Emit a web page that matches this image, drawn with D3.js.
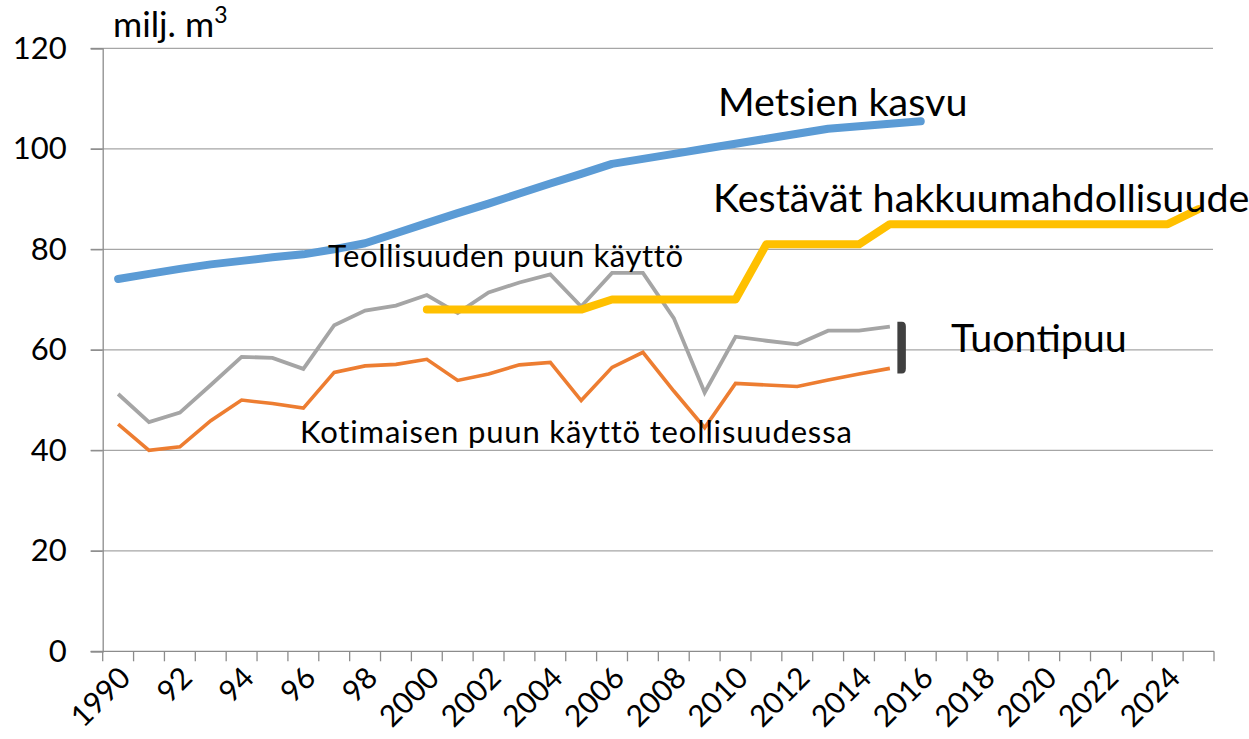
<!DOCTYPE html>
<html><head><meta charset="utf-8">
<script src="https://cdn.jsdelivr.net/npm/d3@7"></script>
<style>
html,body{margin:0;padding:0;background:#fff;}
svg{display:block;font-family:Lato,"Open Sans",sans-serif;}
</style></head>
<body><svg id="c" width="1249" height="739"></svg>
<script>
// ---- data ----
const years = d3.range(1990, 2026).map(String);
const xTickLabels = ["1990","92","94","96","98","2000","2002","2004","2006","2008","2010","2012","2014","2016","2018","2020","2022","2024"];
const yTicks = [0,20,40,60,80,100,120];
// Metsien kasvu 1990-2016
const metsienKasvu = [74.1,75.1,76.1,77.0,77.7,78.4,79.0,80.0,81.2,83.2,85.2,87.2,89.1,91.1,93.1,95.0,97.0,98.0,99.0,100.0,101.0,102.0,103.0,104.0,104.5,105.0,105.5];
// Kestävät hakkuumahdollisuudet 2000-2025
const kestavat = [68,68,68,68,68,68,70,70,70,70,70,81,81,81,81,85,85,85,85,85,85,85,85,85,85,88];
const kestavatStart = 2000;
// Teollisuuden puun käyttö 1990-2015
const teollisuus = [51.2,45.6,47.5,53.0,58.6,58.4,56.2,64.9,67.8,68.8,70.9,67.3,71.4,73.4,75.0,68.6,75.3,75.3,66.3,51.5,62.6,61.8,61.1,63.8,63.8,64.6];
// Kotimaisen puun käyttö teollisuudessa 1990-2015
const kotimainen = [45.2,40.0,40.7,45.9,50.0,49.3,48.4,55.5,56.8,57.1,58.1,53.9,55.2,57.0,57.5,49.9,56.5,59.5,51.8,44.5,53.3,53.0,52.7,54.0,55.2,56.3];
// Tuontipuu bracket (range between the two use series, 2015)
const tuontiRange = [55.3, 65.6];

// ---- layout ----
const svg = d3.select("#c");
const L = 102.7, R = 1214, T = 48.3, B = 651.3;
const x = d3.scaleBand().domain(years).range([L, R]).padding(0);
const y = d3.scaleLinear().domain([0, 120]).range([B, T]);
const cx = yr => x(String(yr)) + x.bandwidth() / 2;

// gridlines
svg.append("g").selectAll("line").data(yTicks.filter(d => d > 0)).join("line")
  .attr("x1", L - 12).attr("x2", R - 1).attr("y1", d => y(d)).attr("y2", d => y(d))
  .attr("stroke", "#a6a6a6").attr("stroke-width", 1.3);

// y axis
const yAxis = svg.append("g").attr("transform", `translate(${L},0)`)
  .call(d3.axisLeft(y).tickValues(yTicks).tickSize(12).tickPadding(24).tickFormat(d3.format("d")));
yAxis.select(".domain").attr("stroke", "#8c8c8c").attr("stroke-width", 1.3);
yAxis.selectAll(".tick line").attr("stroke", "#8c8c8c").attr("stroke-width", 1.3);
yAxis.selectAll("text").attr("font-size", 31).attr("fill", "#000").attr("font-family", "Lato");

// x axis
const xAxisG = svg.append("g").attr("transform", `translate(0,${B})`);
xAxisG.append("line").attr("x1", L - 12).attr("x2", R).attr("stroke", "#8c8c8c").attr("stroke-width", 1.3);
xAxisG.selectAll("line.tk").data(d3.range(years.length + 1)).join("line").attr("class", "tk")
  .attr("x1", i => L + i * x.bandwidth()).attr("x2", i => L + i * x.bandwidth())
  .attr("y1", 0).attr("y2", 10).attr("stroke", "#8c8c8c").attr("stroke-width", 1.3);
xAxisG.selectAll("text").data(xTickLabels).join("text")
  .attr("transform", (d, i) => `translate(${cx(1990 + 2 * i) - 1},${13}) rotate(-45)`)
  .attr("text-anchor", "end").attr("dy", "0.72em")
  .attr("font-size", 30).attr("font-family", "Lato").attr("fill", "#000")
  .text(d => d);

// lines
const line = d3.line().defined(d => d.v != null).x(d => cx(d.yr)).y(d => y(d.v));
const toPts = (arr, start) => arr.map((v, i) => ({yr: start + i, v}));

svg.append("path").datum(toPts(kotimainen, 1990)).attr("d", line)
  .attr("fill", "none").attr("stroke", "#ED7D31").attr("stroke-width", 3.6);
svg.append("path").datum(toPts(teollisuus, 1990)).attr("d", line)
  .attr("fill", "none").attr("stroke", "#A5A5A5").attr("stroke-width", 3.8);
svg.append("path").datum(toPts(kestavat, kestavatStart)).attr("d", line)
  .attr("fill", "none").attr("stroke", "#FFC000").attr("stroke-width", 8)
  .attr("stroke-linecap", "round").attr("stroke-linejoin", "round");
svg.append("path").datum(toPts(metsienKasvu, 1990)).attr("d", line)
  .attr("fill", "none").attr("stroke", "#5B9BD5").attr("stroke-width", 8)
  .attr("stroke-linecap", "round").attr("stroke-linejoin", "round");

// Tuontipuu bracket
{
  const x0 = cx(2015) + 7.5, x1 = x0 + 8.5;
  const y0 = y(tuontiRange[1]), y1 = y(tuontiRange[0]);
  svg.append("path")
    .attr("d", `M${x0},${y0} L${x1 - 4},${y0} Q${x1},${y0} ${x1},${y0 + 5} L${x1},${y1 - 5} Q${x1},${y1} ${x1 - 4},${y1} L${x0},${y1} Z`)
    .attr("fill", "#404040");
}

// labels
const lab = (t, px, py, fs, ls) => svg.append("text").attr("x", px).attr("y", py)
  .attr("font-size", fs).attr("font-family", "Lato").attr("fill", "#000")
  .attr("letter-spacing", ls || 0).text(t);
const title = svg.append("text").attr("x", 113).attr("y", 37).attr("font-size", 35.5).attr("font-family", "Lato").attr("fill", "#000");
title.append("tspan").text("milj. m");
title.append("tspan").attr("font-size", 23).attr("dy", -14).text("3");

lab("Metsien kasvu", 718, 116, 39.5);
lab("Kestävät hakkuumahdollisuudet", 713, 212, 39.5);
lab("Tuontipuu", 951, 352, 39.5);
lab("Teollisuuden puun käyttö", 328, 267, 31, 0.6);
lab("Kotimaisen puun käyttö teollisuudessa", 300, 443, 31, 0.85);
</script></body></html>
